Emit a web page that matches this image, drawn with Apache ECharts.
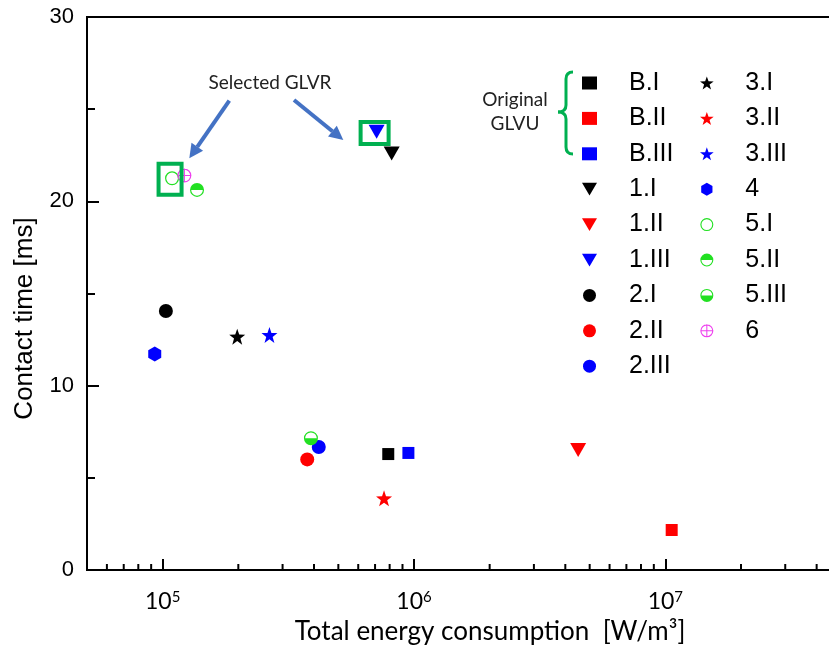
<!DOCTYPE html>
<html>
<head>
<meta charset="utf-8">
<script src="https://cdn.jsdelivr.net/npm/echarts@6/dist/echarts.min.js"></script>
<style>
  html, body { margin: 0; padding: 0; background: #fff; }
  #chart { width: 829px; height: 652px; }
</style>
</head>
<body>
<div id="chart"></div>
<script>
// 数据
const seriesNames = ['B.I', 'B.II', 'B.III', '1.I', '1.II', '1.III', '2.I', '2.II', '2.III',
  '3.I', '3.II', '3.III', '4', '5.I', '5.II', '5.III', '6'];
// Total energy consumption [W/m3]
const energy = [7.9e5, 1.06e7, 9.5e5, 8.15e5, 4.5e6, 7.1e5, 1.03e5, 3.76e5, 4.18e5,
  1.98e5, 7.6e5, 2.66e5, 9.3e4, 1.09e5, 1.37e5, 3.89e5, 1.22e5];
// Contact time [ms]
const contactTime = [6.29, 2.17, 6.35, 22.6, 6.51, 23.78, 14.05, 6.0, 6.67,
  12.66, 3.89, 12.75, 11.72, 21.25, 20.62, 7.15, 21.4];
const legendCol1 = seriesNames.slice(0, 9);
const legendCol2 = seriesNames.slice(9);
// x 轴刻度
const xMin = 5e4;
const xMax = 5e7;
const minorTicks = [6e4, 7e4, 8e4, 9e4,
  2e5, 3e5, 4e5, 5e5, 6e5, 7e5, 8e5, 9e5,
  2e6, 3e6, 4e6, 5e6, 6e6, 7e6, 8e6, 9e6,
  2e7, 3e7, 4e7];

// 符号
const RING = 'M10,0A10 10 0 1 1 10,20A10 10 0 1 1 10,0Z' +
  'M10,1.7A8.3 8.3 0 1 0 10,18.3A8.3 8.3 0 1 0 10,1.7Z';
const SYM = {
  square: 'rect',
  tri: 'path://M0,0L20,0L10,17Z',
  circle: 'circle',
  star: 'path://M10,0L12.35,6.76L19.51,6.91L13.8,11.24L15.88,18.09L10,14L4.12,18.09L6.2,11.24L0.49,6.91L7.65,6.76Z',
  hex: 'path://M10,0L18.66,5L18.66,15L10,20L1.34,15L1.34,5Z',
  open: 'path://' + RING,
  top: 'path://' + RING + 'M1.7,10A8.3 8.3 0 0 1 18.3,10Z',
  bottom: 'path://' + RING + 'M1.7,10A8.3 8.3 0 0 0 18.3,10Z',
  cross: 'path://' + RING + 'M9.2,0L10.8,0L10.8,20L9.2,20ZM0,9.2L20,9.2L20,10.8L0,10.8Z'
};
const BLACK = '#000000', RED = '#ff0000', BLUE = '#0000ff', GREEN = '#22e022', MAGENTA = '#ee40ee';
const markerStyle = [
  [SYM.square, 12, BLACK], [SYM.square, 12, RED], [SYM.square, 12, BLUE],
  [SYM.tri, [16, 14], BLACK], [SYM.tri, [16, 14], RED], [SYM.tri, [16, 14], BLUE],
  [SYM.circle, 14, BLACK], [SYM.circle, 14, RED], [SYM.circle, 14, BLUE],
  [SYM.star, 16, BLACK], [SYM.star, 16, RED], [SYM.star, 16, BLUE],
  [SYM.hex, [13, 15], BLUE],
  [SYM.open, 14, GREEN], [SYM.top, 14, GREEN], [SYM.bottom, 14, GREEN],
  [SYM.cross, 14, MAGENTA]
];

let myChart = echarts.init(document.getElementById('chart'), null, { renderer: 'canvas' });

let series = seriesNames.map(function (name, i) {
  return {
    name: name,
    type: 'scatter',
    symbol: markerStyle[i][0],
    symbolSize: markerStyle[i][1],
    itemStyle: { color: markerStyle[i][2], opacity: 1 },
    data: [[energy[i], contactTime[i]]],
    z: 3
  };
});
// x 轴次刻度
series.push({
  type: 'custom',
  silent: true,
  data: minorTicks.map(function (v) { return [v, 0]; }),
  renderItem: function (params, api) {
    let p = api.coord([api.value(0), 0]);
    return {
      type: 'line',
      shape: { x1: p[0], y1: p[1], x2: p[0], y2: p[1] - 6 },
      style: { stroke: '#000', lineWidth: 2 }
    };
  },
  z: 1
});

function legendOf(data, left, pad) {
  return {
    data: data,
    orient: 'vertical',
    left: left,
    top: 65.5,
    itemWidth: 15,
    itemHeight: 13,
    itemGap: 10.4,
    selectedMode: false,
    itemStyle: { borderWidth: 0 },
    textStyle: {
      fontFamily: 'Liberation Sans',
      fontSize: 25,
      lineHeight: 25,
      color: '#000',
      padding: [0, 0, 0, pad]
    }
  };
}

let option = {
  animation: false,
  backgroundColor: '#fff',
  grid: {
    left: 87, right: -12, top: 17, bottom: 82,
    outerBoundsMode: 'none',
    show: true, borderColor: '#000', borderWidth: 2
  },
  legend: [legendOf(legendCol1, 577, 27), legendOf(legendCol2, 695, 26)],
  xAxis: {
    type: 'log',
    logBase: 10,
    min: xMin,
    max: xMax,
    name: 'Total energy consumption  [W/m³]',
    nameLocation: 'middle',
    nameGap: 49,
    nameTextStyle: { fontFamily: 'Lato', fontSize: 26, color: '#000', padding: [0, 0, 0, 52] },
    axisLine: { lineStyle: { color: '#000', width: 2 } },
    axisTick: { inside: true, length: 11, lineStyle: { color: '#000', width: 2 } },
    splitLine: { show: false },
    axisLabel: {
      margin: 20,
      color: '#000',
      formatter: function (v) {
        let e = Math.log10(v);
        if (Math.abs(e - Math.round(e)) > 1e-6) return '';
        return '{b|10}{s|' + Math.round(e) + '}';
      },
      rich: {
        b: { fontFamily: 'Lato', fontSize: 23, color: '#000' },
        s: { fontFamily: 'Lato', fontSize: 15, color: '#000', verticalAlign: 'top' }
      }
    }
  },
  yAxis: {
    type: 'value',
    min: 0,
    max: 30,
    interval: 10,
    name: 'Contact time [ms]',
    nameLocation: 'middle',
    nameGap: 49,
    nameTextStyle: { fontFamily: 'Liberation Sans', fontSize: 26, color: '#000', padding: [0, 50, 0, 0] },
    axisLine: { lineStyle: { color: '#000', width: 2 } },
    axisTick: { inside: true, length: 12, lineStyle: { color: '#000', width: 2 } },
    minorTick: { show: true, splitNumber: 2, length: 8, lineStyle: { color: '#000', width: 2 } },
    splitLine: { show: false },
    axisLabel: { fontFamily: 'Liberation Sans', fontSize: 22, color: '#000', margin: 13 }
  },
  series: series
};
myChart.setOption(option);

// 标注：框、箭头、文字、括号
let pLeft = myChart.convertToPixel({ seriesIndex: 13 }, [energy[13], contactTime[13]]);
let pRight = myChart.convertToPixel({ seriesIndex: 5 }, [energy[5], contactTime[5]]);
const boxGreen = '#00b050';
const arrowBlue = '#4472c4';
const braceStyle = { fill: 'none', stroke: boxGreen, lineWidth: 3 };
const noteFont = { fontFamily: 'Lato', fontSize: 19, fill: '#222', align: 'center', verticalAlign: 'middle' };
myChart.setOption({
  graphic: [
    {
      type: 'rect', z: 10,
      shape: { x: pLeft[0] - 13.5, y: pLeft[1] - 14.5, width: 23, height: 31 },
      style: { fill: 'none', stroke: boxGreen, lineWidth: 4 }
    },
    {
      type: 'rect', z: 10,
      shape: { x: pRight[0] - 16, y: pRight[1] - 9.7, width: 28, height: 22 },
      style: { fill: 'none', stroke: boxGreen, lineWidth: 4 }
    },
    {
      type: 'text', z: 10, x: 270, y: 83,
      style: Object.assign({ text: 'Selected GLVR' }, noteFont)
    },
    {
      type: 'line', z: 10,
      shape: { x1: 229.3, y1: 100.7, x2: 197.3, y2: 146.8 },
      style: { stroke: arrowBlue, lineWidth: 4 }
    },
    {
      type: 'polygon', z: 10,
      shape: { points: [[189.3, 158.3], [203.1, 150.8], [191.5, 142.8]] },
      style: { fill: arrowBlue }
    },
    {
      type: 'line', z: 10,
      shape: { x1: 294, y1: 100, x2: 332.4, y2: 131.2 },
      style: { stroke: arrowBlue, lineWidth: 4 }
    },
    {
      type: 'polygon', z: 10,
      shape: { points: [[343.3, 140], [328.0, 136.6], [336.8, 125.8]] },
      style: { fill: arrowBlue }
    },
    {
      type: 'text', z: 10, x: 515, y: 100,
      style: Object.assign({ text: 'Original' }, noteFont)
    },
    {
      type: 'text', z: 10, x: 515, y: 124,
      style: Object.assign({ text: 'GLVU' }, noteFont)
    },
    { type: 'bezierCurve', z: 10, shape: { x1: 573, y1: 72, cpx1: 566, cpy1: 72, x2: 566, y2: 79 }, style: braceStyle },
    { type: 'line', z: 10, shape: { x1: 566, y1: 79, x2: 566, y2: 105 }, style: braceStyle },
    { type: 'bezierCurve', z: 10, shape: { x1: 566, y1: 105, cpx1: 566, cpy1: 112, x2: 558, y2: 112 }, style: braceStyle },
    { type: 'bezierCurve', z: 10, shape: { x1: 558, y1: 112, cpx1: 566, cpy1: 112, x2: 566, y2: 119 }, style: braceStyle },
    { type: 'line', z: 10, shape: { x1: 566, y1: 119, x2: 566, y2: 147 }, style: braceStyle },
    { type: 'bezierCurve', z: 10, shape: { x1: 566, y1: 147, cpx1: 566, cpy1: 154, x2: 573, y2: 154 }, style: braceStyle }
  ]
});
</script>
</body>
</html>
